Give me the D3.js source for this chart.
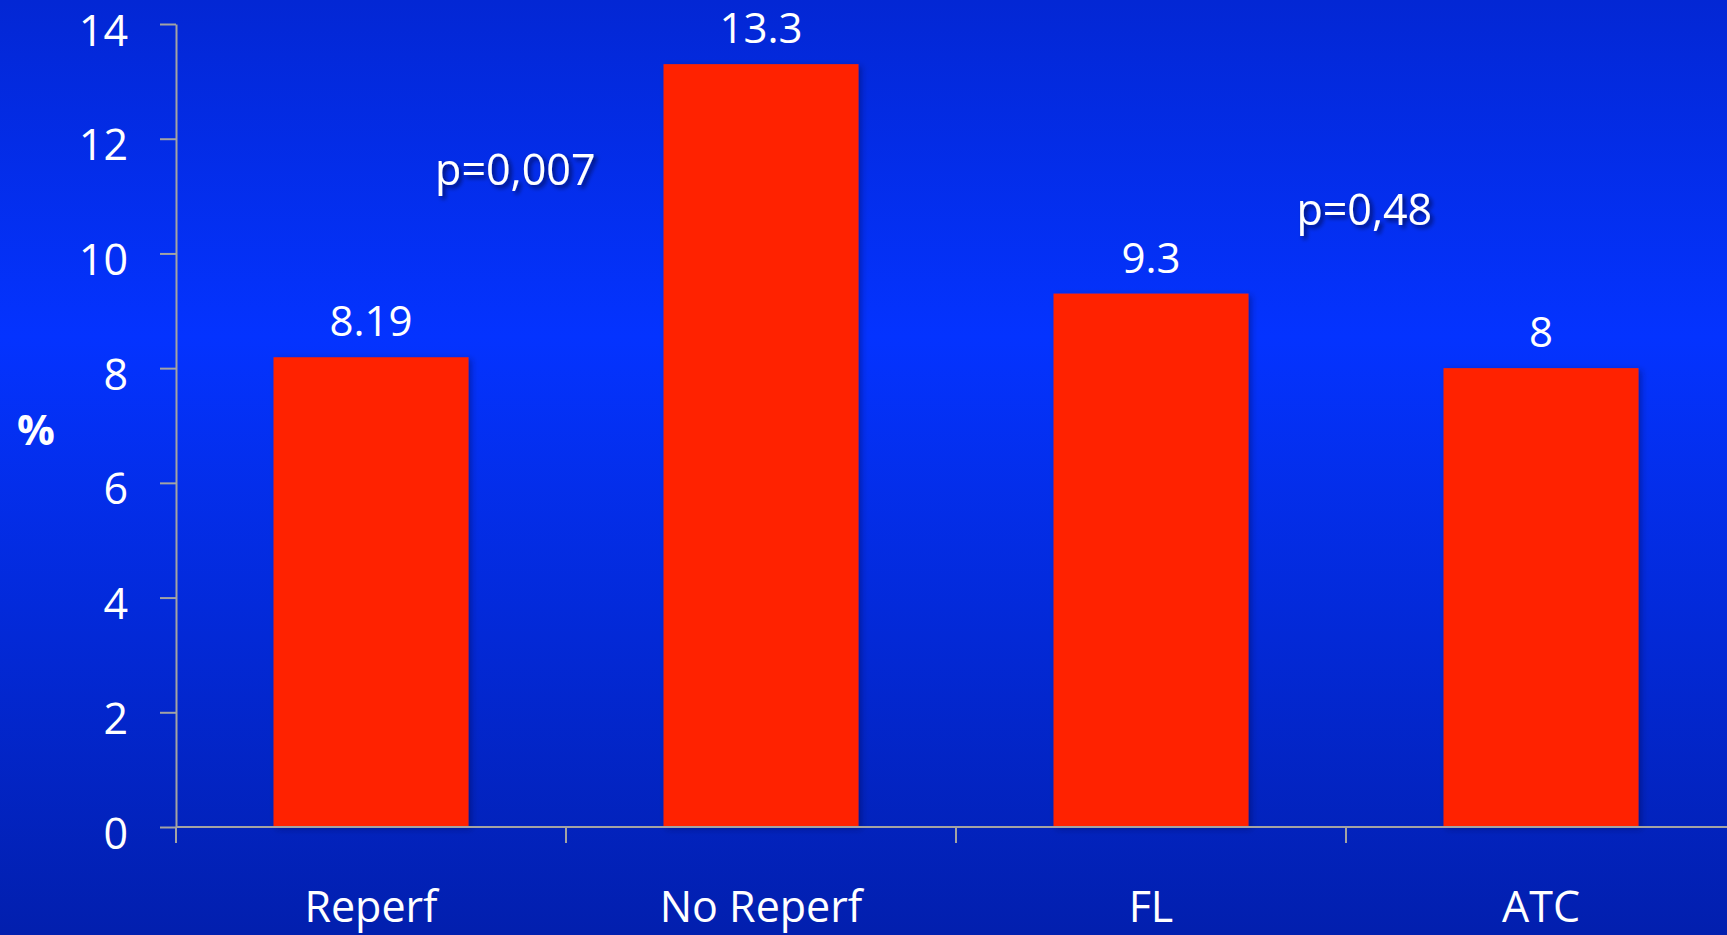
<!DOCTYPE html>
<html>
<head>
<meta charset="utf-8">
<script src="https://cdn.jsdelivr.net/npm/d3@7"></script>
<style>
  html, body { margin: 0; padding: 0; background: #0328e0; }
  svg { display: block; }
  text { font-family: "Open Sans", "Noto Sans", sans-serif; fill: #ffffff; }
</style>
</head>
<body>
<svg id="chart" width="1727" height="935"></svg>
<script>
// Categories and their percentages
const categories = ["Reperf", "No Reperf", "FL", "ATC"];
const values = [8.19, 13.3, 9.3, 8];
const valueLabels = ["8.19", "13.3", "9.3", "8"];
const yTicks = [0, 2, 4, 6, 8, 10, 12, 14];

// p-value annotations: text, anchor category, offset along the band steps, height in axis units
const pTexts = ["p=0,007", "p=0,48"];
const pAnchors = ["Reperf", "FL"];
const pOffsets = [0.37, 0.547];
const pHeights = [11.2, 10.5];

(function draw() {
  const W = 1727, H = 935;
  const svg = d3.select("#chart");

  const defs = svg.append("defs");
  const grad = defs.append("linearGradient")
    .attr("id", "bg").attr("x1", 0).attr("y1", 0).attr("x2", 0).attr("y2", 1);
  grad.append("stop").attr("offset", "0%").attr("stop-color", "#0327d4");
  grad.append("stop").attr("offset", "36%").attr("stop-color", "#0433ff");
  grad.append("stop").attr("offset", "100%").attr("stop-color", "#021fae");

  const barShadow = defs.append("filter").attr("id", "barShadow")
    .attr("x", "-10%").attr("y", "-10%").attr("width", "130%").attr("height", "130%");
  barShadow.append("feDropShadow").attr("dx", 3).attr("dy", 2).attr("stdDeviation", 3)
    .attr("flood-color", "#000033").attr("flood-opacity", 0.35);

  const textShadow = defs.append("filter").attr("id", "textShadow")
    .attr("x", "-20%").attr("y", "-40%").attr("width", "140%").attr("height", "180%");
  textShadow.append("feDropShadow").attr("dx", 3).attr("dy", 3).attr("stdDeviation", 2)
    .attr("flood-color", "#000022").attr("flood-opacity", 0.6);

  svg.append("rect").attr("width", W).attr("height", H).attr("fill", "url(#bg)");

  const plotLeft = 176, plotBottom = 827, plotTop = 24;
  const x = d3.scaleBand().domain(categories)
    .range([plotLeft, plotLeft + 4 * 390]).paddingInner(0.5).paddingOuter(0.25);
  const y = d3.scaleLinear().domain([0, 14]).range([plotBottom, plotTop]);

  const axisColor = "#a3a3a3";

  // Bars
  svg.append("g").selectAll("rect").data(categories).join("rect")
    .attr("x", d => x(d))
    .attr("y", (d, i) => y(values[i]))
    .attr("width", x.bandwidth())
    .attr("height", (d, i) => y(0) - y(values[i]))
    .attr("fill", "#ff2400")
    .attr("filter", "url(#barShadow)");

  // Y axis
  const yAxis = svg.append("g").attr("transform", `translate(${plotLeft},0)`)
    .call(d3.axisLeft(y).tickValues(yTicks).tickSize(16).tickSizeOuter(0).tickPadding(32));
  yAxis.select(".domain").attr("stroke", axisColor).attr("stroke-width", 2);
  yAxis.selectAll(".tick line").attr("stroke", axisColor).attr("stroke-width", 2);
  yAxis.selectAll(".tick text")
    .attr("fill", "#ffffff").attr("dy", "0.49em")
    .style("font-size", "43px").style("font-family", "'Open Sans', sans-serif");

  // X axis line and boundary ticks
  const xAxis = svg.append("g");
  xAxis.append("line")
    .attr("x1", plotLeft).attr("x2", W).attr("y1", y(0)).attr("y2", y(0))
    .attr("stroke", axisColor).attr("stroke-width", 2);
  const gap = (x.step() - x.bandwidth()) / 2;
  xAxis.selectAll("line.bt").data(categories).join("line").attr("class", "bt")
    .attr("x1", d => x(d) - gap).attr("x2", d => x(d) - gap)
    .attr("y1", y(0)).attr("y2", y(0) + 16)
    .attr("stroke", axisColor).attr("stroke-width", 2);

  // Category labels
  svg.append("g").selectAll("text").data(categories).join("text")
    .attr("x", d => x(d) + x.bandwidth() / 2)
    .attr("y", 922)
    .attr("text-anchor", "middle")
    .style("font-size", "43px")
    .text(d => d);

  // Value labels
  svg.append("g").selectAll("text").data(categories).join("text")
    .attr("x", d => x(d) + x.bandwidth() / 2)
    .attr("y", (d, i) => y(values[i]) - 21)
    .attr("text-anchor", "middle")
    .style("font-size", "42px")
    .text((d, i) => valueLabels[i]);

  // p-value annotations
  svg.append("g").selectAll("text").data(pTexts).join("text")
    .attr("x", (d, i) => x(pAnchors[i]) + x.bandwidth() / 2 + pOffsets[i] * x.step())
    .attr("y", (d, i) => y(pHeights[i]))
    .attr("text-anchor", "middle")
    .attr("filter", "url(#textShadow)")
    .style("font-size", "43px")
    .text(d => d);

  // Axis title
  svg.append("text")
    .attr("x", 36).attr("y", 445)
    .attr("text-anchor", "middle")
    .style("font-size", "42px").style("font-weight", "bold")
    .text("%");
})();
</script>
</body>
</html>
